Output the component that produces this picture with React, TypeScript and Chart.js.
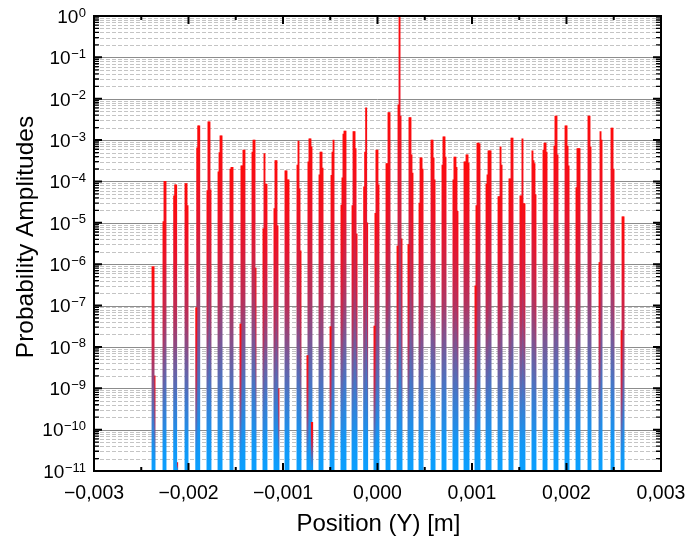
import React, { useEffect, useRef } from "react";
import { Chart, registerables } from "chart.js";

Chart.register(...registerables);

// ---------- data ----------
const clusterCenters = [
  -0.00237, -0.002254, -0.002141, -0.002021, -0.001897, -0.001778, -0.001661, -0.001545,
  -0.001429, -0.001312, -0.001196, -0.001069, -0.000963, -0.000836, -0.00072, -0.000603,
  -0.000476, -0.00036, -0.000243, -0.00012, -0.000011, 0.000106, 0.000233, 0.000349,
  0.000466, 0.000593, 0.000709, 0.000825, 0.000942, 0.001058, 0.001175, 0.001302,
  0.001418, 0.001534, 0.001661, 0.001778, 0.001894, 0.002011, 0.002127, 0.002254,
  0.00236, 0.002487, 0.002593,
];

// bin offsets inside each cluster (m)
const binOffsets = [-0.0000212, -0.0000106, 0, 0.0000106, 0.0000212];

const bin0 = [
  null, null, null, null, 8.9e-8, 6.0e-5, 1.7e-4, null, 3.6e-8, null, null, 2.2e-5, null, null,
  6.2e-9, null, 3.1e-8, 2.7e-5, 2.6e-5, 7.4e-5, 3.2e-8, null, 2.75e-6, 3.0e-6, 3.0e-5, 1.0e-3,
  2.5e-4, 1.1e-4, 3.0e-4, 3.0e-7, 8.7e-5, 4.3e-5, 1.15e-4, 4.5e-5, 5.5e-4, 5.75e-4, 7.2e-4,
  2.2e-3, 7.1e-5, 3.8e-3, null, null, null,
];
const bin1 = [
  8.7e-7, 1.07e-5, 4.5e-5, 8.9e-5, 6.5e-4, 2.75e-3, 5.0e-4, 2.0e-4, 2.4e-4, 5.1e-4, 7.2e-6,
  3.2e-4, 1.8e-4, 2.5e-4, 3.0e-4, 1.45e-4, 1.4e-4, 1.23e-4, 1.6e-3, 5.1e-4, 1.7e-5, 2.7e-4,
  7.1e-3, 3.5e-3, 3.7e-4, 1.0e-3, 1.2e-3, 3.9e-4, 3.0e-4, 2.6e-5, 1.45e-4, 4.3e-5, 1.15e-4,
  4.5e-5, 3.2e-4, 8.5e-4, 3.8e-3, 2.2e-3, 6.2e-4, 3.8e-3, 1.1e-6, 1.95e-3, 2.5e-8,
];
const bin2 = [
  8.7e-7, 1.0e-4, 8.3e-5, 8.9e-5, 2.2e-3, 2.75e-3, 1.26e-3, 2.2e-4, 2.4e-4, 1.0e-3, 4.7e-4,
  3.2e-4, 1.8e-4, 9.5e-4, 1.07e-3, 5.1e-4, 5.1e-4, 1.4e-3, 1.6e-3, 6.0e-3, 5.75e-4, 2.7e-4,
  1.0, 3.5e-3, 3.7e-4, 3.7e-4, 1.2e-3, 3.9e-4, 4.4e-4, 8.5e-4, 5.5e-4, 6.9e-4, 1.12e-3,
  1.07e-3, 2.7e-4, 8.5e-4, 3.8e-3, 7.2e-4, 6.2e-4, 6.9e-4, 1.6e-3, 1.95e-3, 1.4e-5,
];
const bin3 = [
  2.0e-9, 1.0e-4, 8.3e-5, 2.6e-5, 2.2e-3, 6.3e-5, 1.26e-3, 2.2e-4, 5.75e-4, 1.0e-3, 8.7e-5,
  8.5e-6, 1.1e-4, 6.6e-5, 1.07e-3, 5.1e-4, 1.0e-3, 1.66e-3, 6.2e-4, 1.0e-5, 5.75e-4, 4.6e-3,
  3.8e-3, 4.4e-4, 2.0e-4, 1.1e-4, 3.9e-4, 2.2e-4, 4.4e-4, 8.5e-4, 5.5e-4, 2.5e-4, 1.12e-3,
  2.9e-5, 4.8e-5, 5.1e-4, 4.4e-4, 2.4e-4, 6.2e-4, null, 1.0e-3, 2.0e-4, 1.4e-5,
];
const bin4 = [
  null, null, 1.6e-11, null, null, null, null, null, 5.75e-4, 8.1e-7, 8.7e-5, 9.8e-10, 1.1e-4,
  2.1e-6, 6.9e-4, 2.1e-4, null, 1.66e-3, 5.4e-6, null, 8.3e-5, 4.6e-3, 4.1e-6, 1.6e-4, null,
  null, null, 1.9e-5, 2.8e-4, 8.1e-4, 5.5e-4, null, null, 2.9e-5, null, null, null, null, null,
  null, null, null, null,
];
const extraX = [-0.000693];
const extraY = [1.5e-10];

const xMajorTicks = [-0.003, -0.002, -0.001, 0, 0.001, 0.002, 0.003];
const xMinorTicks = [-0.0025, -0.0015, -0.0005, 0.0005, 0.0015, 0.0025];
const xTickLabels = ["\u22120,003", "\u22120,002", "\u22120,001", "0,000", "0,001", "0,002", "0,003"];
const yDecades = [-11, -10, -9, -8, -7, -6, -5, -4, -3, -2, -1, 0];
const yMantissas = [1, 2, 3, 4, 5, 6, 7, 8, 9];

const xTitle = "Position (Y) [m]";
const yTitle = "Probability Amplitudes";

const FONT = '"Liberation Sans", Arial, Helvetica, sans-serif';
const Y_MIN = 1e-11;
const Y_MAX = 1;

function buildPoints(values: (number | null)[], offset: number) {
  const pts: { x: number; y: number }[] = [];
  values.forEach((v, i) => {
    if (v !== null) pts.push({ x: clusterCenters[i] + offset, y: v });
  });
  return pts;
}

function barFill(ctx: any) {
  const chart = ctx.chart;
  const area = chart.chartArea;
  const raw = ctx.raw;
  if (!area || !raw) return "#ff0000";
  const ys = chart.scales.y;
  const top = Math.max(area.top, ys.getPixelForValue(raw.y));
  const bottom = area.bottom;
  if (!(bottom > top + 0.5)) return "#ff0000";
  const g = chart.ctx.createLinearGradient(0, top, 0, bottom);
  g.addColorStop(0, "#ff0a0a");
  g.addColorStop(0.25, "#e6152e");
  g.addColorStop(0.45, "#b8305a");
  g.addColorStop(0.6, "#7b5694");
  g.addColorStop(0.76, "#3f7acd");
  g.addColorStop(0.9, "#1496f4");
  g.addColorStop(1, "#0aa0ff");
  return g;
}

const gridPlugin = {
  id: "logGrid",
  beforeDatasetsDraw(chart: any) {
    const { ctx, chartArea: a, scales } = chart;
    const ys = scales.y;
    ctx.save();
    ctx.lineWidth = 1;
    for (const e of yDecades) {
      for (const m of yMantissas) {
        const v = m * Math.pow(10, e);
        if (v > Y_MAX * 1.0000001) continue;
        const py = Math.round(ys.getPixelForValue(v)) + 0.5;
        if (m === 1) {
          ctx.setLineDash([]);
          ctx.strokeStyle = "#8c8c8c";
        } else {
          ctx.setLineDash([4, 2]);
          ctx.strokeStyle = "#c4c4c4";
        }
        ctx.beginPath();
        ctx.moveTo(a.left, py);
        ctx.lineTo(a.right, py);
        ctx.stroke();
      }
    }
    ctx.restore();
  },
};

const decorPlugin = {
  id: "decor",
  afterDraw(chart: any) {
    const { ctx, chartArea: a, scales } = chart;
    const xs = scales.x;
    const ys = scales.y;
    ctx.save();
    ctx.setLineDash([]);
    ctx.strokeStyle = "#000";
    ctx.fillStyle = "#000";

    // y ticks (inward, left and right)
    for (const e of yDecades) {
      for (const m of yMantissas) {
        const v = m * Math.pow(10, e);
        if (v > Y_MAX * 1.0000001) continue;
        const py = ys.getPixelForValue(v);
        const major = m === 1;
        const len = major ? 8 : 5;
        ctx.lineWidth = major ? 2 : 1.3;
        ctx.beginPath();
        ctx.moveTo(a.left, py);
        ctx.lineTo(a.left + len, py);
        ctx.moveTo(a.right, py);
        ctx.lineTo(a.right - len, py);
        ctx.stroke();
      }
    }
    // x ticks (inward, bottom and top)
    ctx.lineWidth = 2;
    const drawX = (vals: number[], len: number) => {
      for (const v of vals) {
        const px = xs.getPixelForValue(v);
        ctx.beginPath();
        ctx.moveTo(px, a.bottom);
        ctx.lineTo(px, a.bottom - len);
        ctx.moveTo(px, a.top);
        ctx.lineTo(px, a.top + len);
        ctx.stroke();
      }
    };
    drawX(xMajorTicks, 8);
    drawX(xMinorTicks, 4);

    // frame
    ctx.lineWidth = 2;
    ctx.strokeRect(a.left, a.top, a.right - a.left, a.bottom - a.top);

    // y tick labels 10^n
    const right = 86;
    ctx.textBaseline = "alphabetic";
    for (const e of yDecades) {
      const py = ys.getPixelForValue(Math.pow(10, e));
      const exp = e < 0 ? "\u2212" + String(-e) : String(e);
      ctx.font = `13px ${FONT}`;
      const ew = ctx.measureText(exp).width;
      ctx.textAlign = "left";
      ctx.fillText(exp, right - ew, py + 0.5);
      ctx.font = `19px ${FONT}`;
      ctx.textAlign = "right";
      ctx.fillText("10", right - ew - 0.5, py + 6.8);
    }

    // x tick labels
    ctx.font = `19.5px ${FONT}`;
    ctx.textAlign = "center";
    xMajorTicks.forEach((v, i) => {
      ctx.fillText(xTickLabels[i], xs.getPixelForValue(v), 499);
    });

    // titles
    ctx.font = `24px ${FONT}`;
    ctx.textAlign = "center";
    ctx.fillText(xTitle, (a.left + a.right) / 2 + 1, 531);

    ctx.save();
    ctx.translate(33, 237);
    ctx.rotate(-Math.PI / 2);
    ctx.font = `24.5px ${FONT}`;
    ctx.textAlign = "center";
    ctx.fillText(yTitle, 0, 0);
    ctx.restore();

    ctx.restore();
  },
};

export default function App() {
  const ref = useRef<HTMLCanvasElement | null>(null);

  useEffect(() => {
    if (!ref.current) return;
    const bins = [bin0, bin1, bin2, bin3, bin4];
    const datasets: any[] = bins.map((b, k) => ({
      label: "bin" + k,
      data: buildPoints(b, binOffsets[k]),
      backgroundColor: barFill,
      borderWidth: 0,
      barThickness: 1.25,
      grouped: false,
      base: Y_MIN,
      order: 1,
    }));
    datasets.push({
      label: "extra",
      data: extraX.map((x, i) => ({ x, y: extraY[i] })),
      backgroundColor: barFill,
      borderWidth: 0,
      barThickness: 1.6,
      grouped: false,
      base: Y_MIN,
      order: 0,
    });

    const chart = new Chart(ref.current, {
      type: "bar",
      data: { datasets },
      options: {
        animation: false,
        responsive: false,
        devicePixelRatio: 1,
        layout: { padding: { left: 94, right: 27, top: 16, bottom: 72 } },
        plugins: {
          legend: { display: false },
          tooltip: { enabled: false },
          title: { display: false },
        },
        scales: {
          x: {
            type: "linear",
            min: -0.003,
            max: 0.003,
            offset: false,
            grid: { display: false, drawTicks: false },
            border: { display: false },
            ticks: { display: false },
          },
          y: {
            type: "logarithmic",
            min: Y_MIN,
            max: Y_MAX,
            grid: { display: false, drawTicks: false },
            border: { display: false },
            ticks: { display: false },
          },
        },
      } as any,
      plugins: [gridPlugin, decorPlugin],
    });
    return () => chart.destroy();
  }, []);

  return (
    <div style={{ position: "fixed", left: 0, top: 0, width: 688, height: 543, background: "#fff" }}>
      <canvas ref={ref} width={688} height={543} style={{ display: "block", width: 688, height: 543 }} />
    </div>
  );
}
